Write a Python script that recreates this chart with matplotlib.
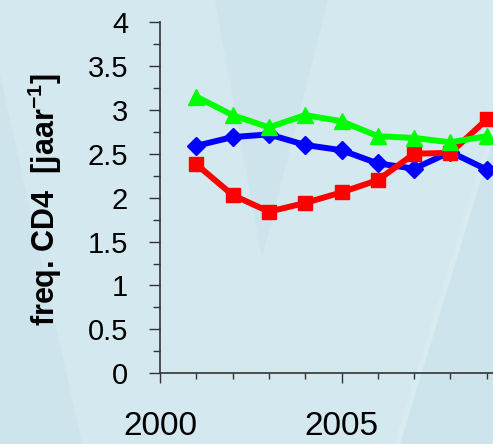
import matplotlib
matplotlib.use("Agg")
import matplotlib.pyplot as plt
from matplotlib.patches import Polygon
from matplotlib.ticker import MultipleLocator

years = [2001, 2002, 2003, 2004, 2005, 2006, 2007, 2008, 2009]
blue_vals = [2.59, 2.69, 2.72, 2.60, 2.54, 2.39, 2.33, 2.52, 2.32]
red_vals = [2.38, 2.03, 1.84, 1.94, 2.06, 2.20, 2.50, 2.51, 2.89]
green_vals = [3.15, 2.94, 2.80, 2.94, 2.87, 2.70, 2.68, 2.63, 2.70]
ylabel = "freq. CD4  [jaar$^{\\mathregular{-1}}$]"

plt.rcParams['font.family'] = ['Liberation Sans', 'DejaVu Sans']
plt.rcParams['mathtext.fontset'] = 'custom'
plt.rcParams['mathtext.rm'] = 'Liberation Sans:bold'
plt.rcParams['mathtext.bf'] = 'Liberation Sans:bold'

W, H = 493, 444
fig = plt.figure(figsize=(W / 100, H / 100), dpi=100)
bg = '#d4e8ef'
dark = '#cde4ec'
fig.patch.set_facecolor(bg)

bgax = fig.add_axes([0, 0, 1, 1], zorder=-5)
bgax.set_xlim(0, W)
bgax.set_ylim(H, 0)
bgax.axis('off')
for pts, col in [
    ([(215, 0), (328, 0), (262, 258)], dark),
    ([(0, 75), (82, 444), (0, 444)], dark),
    ([(400, 444), (493, 140), (493, 444)], dark),
    ([(394, 444), (400, 444), (493, 140), (493, 122)], '#d8ebf1'),
]:
    bgax.add_patch(Polygon(pts, closed=True, facecolor=col, edgecolor='none'))

x0, y0, y4 = 160, 373.3, 22
px_per_year = 36.3
left = x0 / W
bottom = (H - y0) / H
height = (y0 - y4) / H
width = 10 * px_per_year / W
ax = fig.add_axes([left, bottom, width, height], zorder=2)
ax.set_facecolor('none')

ax.plot(years, blue_vals, color='#0000ff', lw=4.3, marker='D', ms=9, zorder=3, clip_on=False)
ax.plot(years, red_vals, color='#ff0000', lw=4.3, marker='s', ms=10, zorder=4, clip_on=False)
ax.plot(years, green_vals, color='#00ff00', lw=4.3, marker='^', ms=11, zorder=5, clip_on=False)

ax.set_xlim(2000, 2010)
ax.set_ylim(0, 4)
for s in ['top', 'right']:
    ax.spines[s].set_visible(False)
for s in ['left', 'bottom']:
    ax.spines[s].set_color('#333333')
    ax.spines[s].set_linewidth(1.2)

ax.set_xticks([2000, 2005])
ax.set_xticklabels(['2000', '2005'])
ax.xaxis.set_minor_locator(MultipleLocator(1))
ax.set_yticks([0, 0.5, 1, 1.5, 2, 2.5, 3, 3.5, 4])
ax.set_yticklabels(['0', '0.5', '1', '1.5', '2', '2.5', '3', '3.5', '4'])
ax.yaxis.set_minor_locator(MultipleLocator(0.25))

ax.tick_params(axis='y', which='major', direction='out', length=8, width=1, color='#333333',
               labelsize=21, pad=15)
ax.tick_params(axis='y', which='minor', direction='out', length=5, width=1, color='#333333')
ax.tick_params(axis='x', which='major', direction='out', length=7.5, width=1, color='#333333',
               labelsize=24, pad=20)
ax.tick_params(axis='x', which='minor', direction='out', length=4.5, width=1, color='#333333')

fig.text(45 / W, 1 - 200 / H, ylabel, rotation=90, fontsize=22, fontweight='bold',
         ha='center', va='center')

fig.savefig('out.png', dpi=100, facecolor=bg)
